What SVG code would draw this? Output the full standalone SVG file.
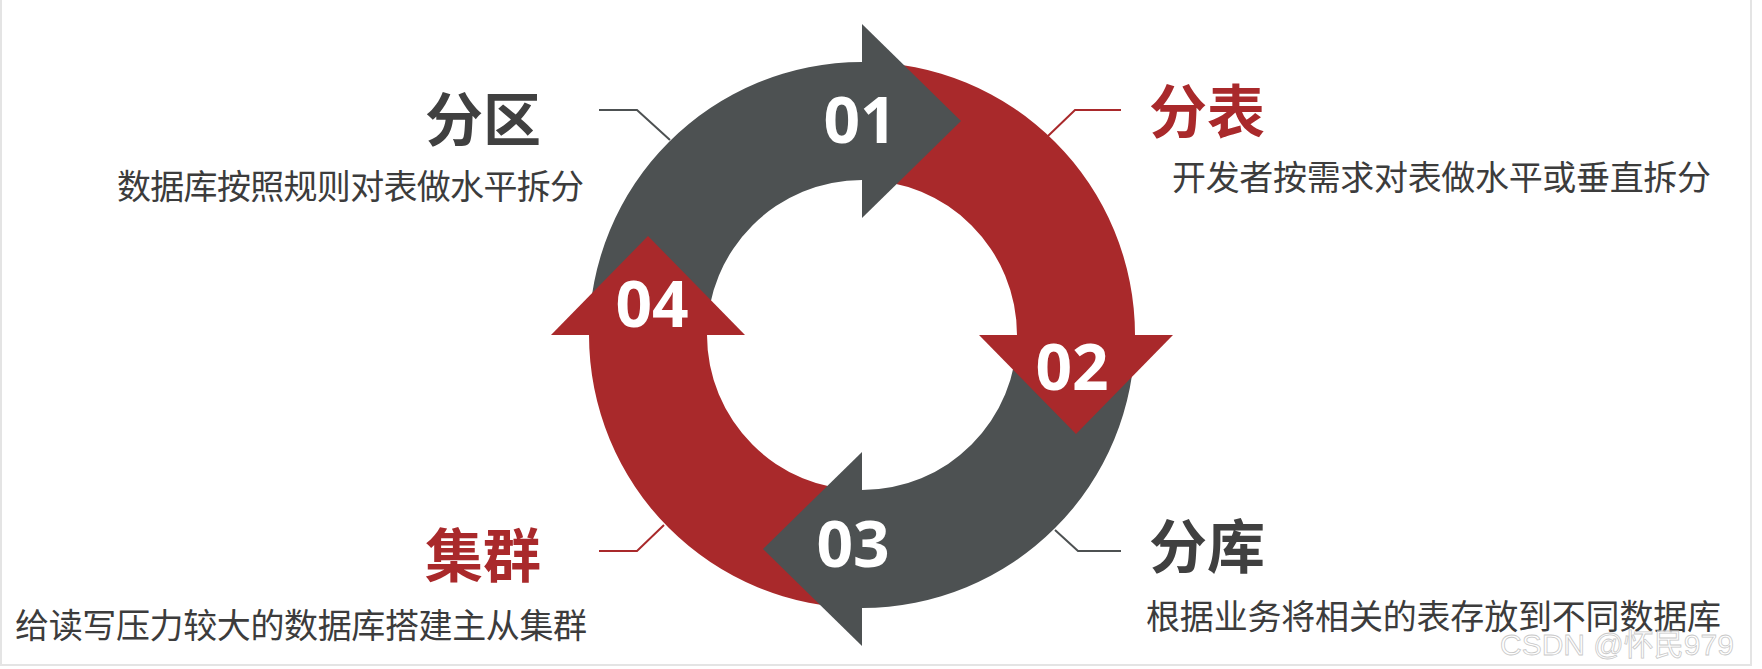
<svg xmlns="http://www.w3.org/2000/svg" width="1762" height="669" viewBox="0 0 1762 669">
<style>
.gray{fill:#4D5152}
.red{fill:#A9292B}
.num{font-family:"Open Sans","Noto Sans",sans-serif;font-weight:700;font-size:64px;fill:#ffffff;text-anchor:middle}
.title{font-family:"Noto Sans CJK SC","Noto Sans",sans-serif;font-weight:700;font-size:58px}
.desc{font-family:"Noto Sans CJK SC","Noto Sans",sans-serif;font-weight:400;font-size:34px;fill:#3C3C3C}
.lead{fill:none;stroke-width:2}
</style>
<rect x="0" y="0" width="1762" height="669" fill="#ffffff"/>
<rect x="1" y="-2" width="1750" height="667" fill="none" stroke="#E4E4E4" stroke-width="2"/>
<g id="ring">
<path class="gray" d="M 589 335 A 273 273 0 0 1 862 62 L 862 180 A 155 155 0 0 0 707 335 Z"/>
<path class="red" d="M 862 62 A 273 273 0 0 1 1135 335 L 1017 335 A 155 155 0 0 0 862 180 Z"/>
<path class="gray" d="M 1135 335 A 273 273 0 0 1 862 608 L 862 490 A 155 155 0 0 0 1017 335 Z"/>
<path class="red" d="M 862 608 A 273 273 0 0 1 589 335 L 707 335 A 155 155 0 0 0 862 490 Z"/>
</g>
<g id="step01">
<polygon class="gray" points="862,24 961,121 862,218"/>
<text class="num" x="860" y="143">01</text>
</g>
<g id="step02">
<polygon class="red" points="979,335 1076,434 1173,335"/>
<text class="num" x="1072" y="390">02</text>
</g>
<g id="step03">
<polygon class="gray" points="862,452 763,549 862,646"/>
<text class="num" x="853" y="567">03</text>
</g>
<g id="step04">
<polygon class="red" points="551,335 648,236 745,335"/>
<text class="num" x="652" y="327">04</text>
</g>
<g id="connectors">
<polyline class="lead" stroke="#4D5152" points="670,140 637,110 599,110"/>
<polyline class="lead" stroke="#A9292B" points="1048,136 1075,110 1121,110"/>
<polyline class="lead" stroke="#A9292B" points="664,525 637,551 599,551"/>
<polyline class="lead" stroke="#4D5152" points="1055,530 1078,551 1121,551"/>
</g>
<g id="label-fenqu">
<text class="title" x="541" y="141" fill="#404040" text-anchor="end">分区</text>
<text class="desc" x="117" y="199" textLength="467" lengthAdjust="spacing">数据库按照规则对表做水平拆分</text>
</g>
<g id="label-fenbiao">
<text class="title" x="1149" y="133" fill="#A9292B">分表</text>
<text class="desc" x="1172" y="190" textLength="539" lengthAdjust="spacing">开发者按需求对表做水平或垂直拆分</text>
</g>
<g id="label-jiqun">
<text class="title" x="541" y="577" fill="#A9292B" text-anchor="end">集群</text>
<text class="desc" x="15" y="638" textLength="572" lengthAdjust="spacing">给读写压力较大的数据库搭建主从集群</text>
</g>
<g id="label-fenku">
<text class="title" x="1149" y="568" fill="#404040">分库</text>
<text class="desc" x="1146" y="629" textLength="575" lengthAdjust="spacing">根据业务将相关的表存放到不同数据库</text>
</g>
<text x="1500" y="655" font-family="'Liberation Sans','Noto Sans CJK SC',sans-serif" font-size="30" fill="#ffffff" fill-opacity="0.6" stroke="#C8C8C8" stroke-width="0.8">CSDN @怀民979</text>
</svg>
